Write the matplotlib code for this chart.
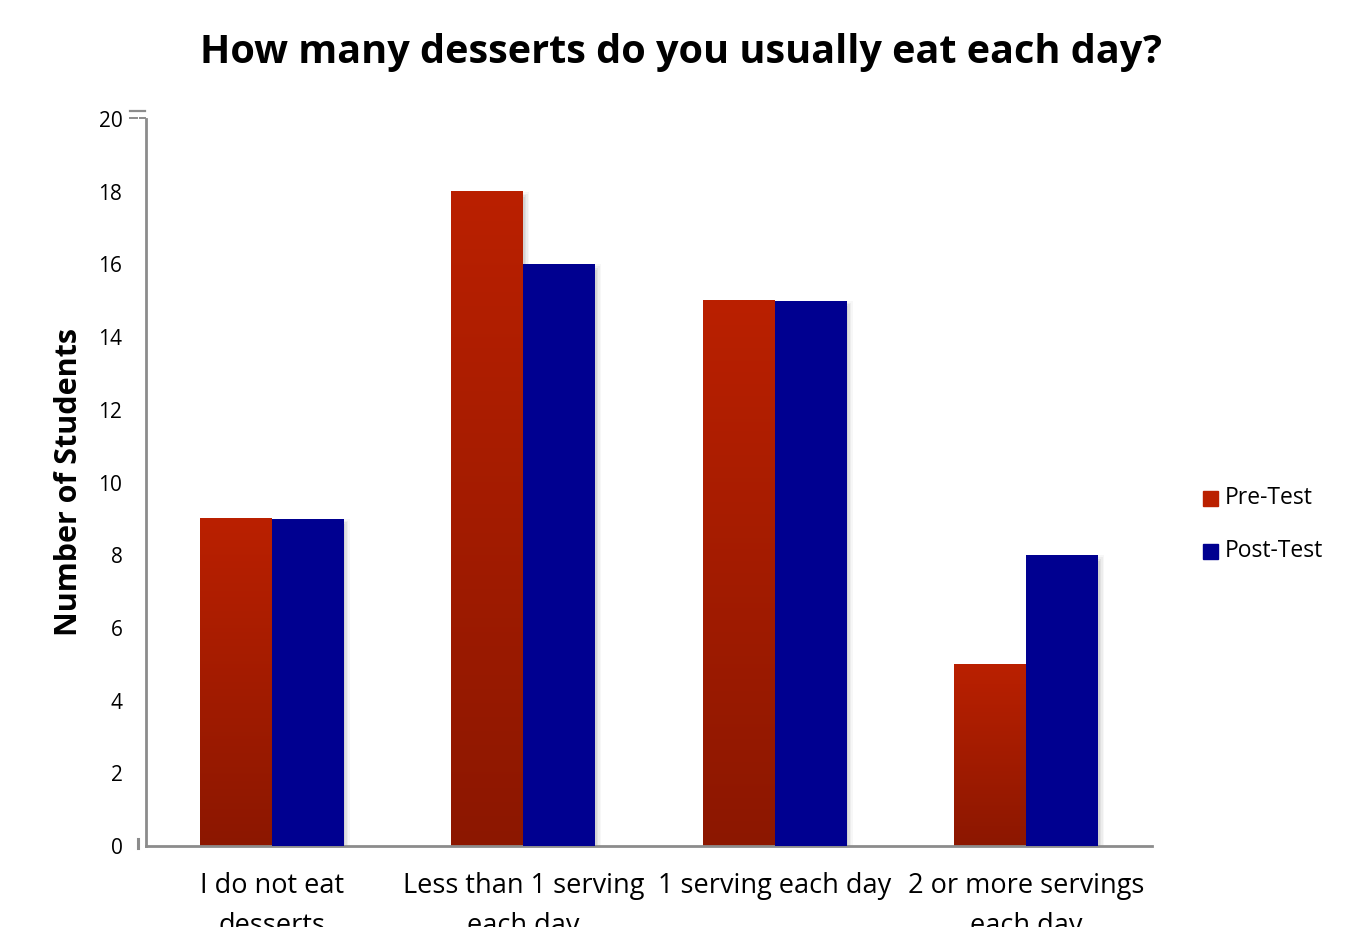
import numpy as np
import matplotlib.pyplot as plt
from matplotlib.patches import Rectangle
from matplotlib.lines import Line2D

categories = ['I do not eat\ndesserts', 'Less than 1 serving\neach day',
              '1 serving each day', '2 or more servings\neach day']
pre_test = [9, 18, 15, 5]
post_test = [9, 16, 15, 8]
yticks = list(range(0, 21, 2))

plt.rcParams['font.family'] = ['Open Sans', 'DejaVu Sans']

W, H = 1356, 927
fig = plt.figure(figsize=(W / 100, H / 100), dpi=100)
ax = fig.add_axes([146 / W, 1 - 846 / H, 1006 / W, 727 / H])

width = 0.286
x = np.arange(len(categories))
red_top = np.array([0xBA, 0x20, 0x00]) / 255
red_bot = np.array([0x8C, 0x17, 0x00]) / 255
blue = '#000090'
grey = '#8c8c8c'

# vertical gradient for the pre-test bars
t = np.linspace(0, 1, 256)[:, None]
grad = (red_top * (1 - t) + red_bot * t)[:, None, :].repeat(2, axis=1)

def shadow(x0, h):
    for i, a in enumerate([0.06, 0.05, 0.04, 0.03]):
        d = 0.006 * (i + 1)
        ax.add_patch(Rectangle((x0 + d, 0), width, h + 0.05 * (i + 1) - 0.2,
                               color='black', alpha=a, lw=0, zorder=1))

for i in range(len(categories)):
    xp = x[i] - width
    xq = x[i]
    shadow(xp, pre_test[i])
    shadow(xq, post_test[i])
    ax.imshow(grad, extent=[xp, xp + width, 0, pre_test[i]], aspect='auto',
              origin='upper', zorder=2, interpolation='bilinear')
    ax.add_patch(Rectangle((xq, 0), width, post_test[i], color=blue, lw=0, zorder=3))

ax.set_xlim(-0.5, len(categories) - 0.5)
ax.set_ylim(0, 20)
ax.set_yticks(yticks)
ax.set_yticklabels([str(v) for v in yticks], fontsize=15)
ax.set_xticks(x)
ax.set_xticklabels(categories, fontsize=19.5, linespacing=1.55)
ax.tick_params(axis='y', length=0, pad=17)
ax.tick_params(axis='x', length=0, pad=19)

for s in ['top', 'right']:
    ax.spines[s].set_visible(False)
for s in ['left', 'bottom']:
    ax.spines[s].set_color(grey)
    ax.spines[s].set_linewidth(2)

ax.set_ylabel('Number of Students', fontsize=22, fontweight='bold', labelpad=10)
fig.text(0.502, 1 - 52 / H, 'How many desserts do you usually eat each day?',
         ha='center', va='center', fontsize=28.5, fontweight='bold')

# small tick stubs on the value axis
def seg(x0, y0, x1, y1, lw):
    fig.lines.append(Line2D([x0 / W, x1 / W], [1 - y0 / H, 1 - y1 / H],
                            transform=fig.transFigure, color=grey, lw=lw))
seg(130, 111, 145, 111, 1.6)
seg(130, 118, 137, 118, 1.4)
seg(140, 118, 145, 118, 1.4)
seg(138, 839, 138, 848, 2.2)

# legend
fig.patches.append(Rectangle((1203 / W, 1 - 506 / H), 15 / W, 15 / H,
                             transform=fig.transFigure, color=red_top, figure=fig))
fig.patches.append(Rectangle((1203 / W, 1 - 559 / H), 15 / W, 15 / H,
                             transform=fig.transFigure, color=blue, figure=fig))
fig.text(1225 / W, 1 - 498 / H, 'Pre-Test', fontsize=16.5, va='center')
fig.text(1225 / W, 1 - 551 / H, 'Post-Test', fontsize=16.5, va='center')

fig.savefig('out.png', dpi=100)
